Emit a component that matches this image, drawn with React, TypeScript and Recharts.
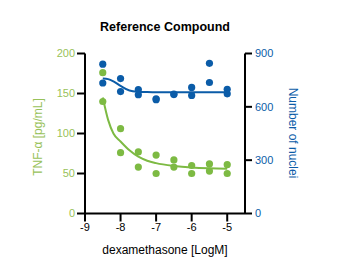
import React from 'react';
import { ComposedChart, Scatter, Line, XAxis, YAxis } from 'recharts';

// log molar concentrations of dexamethasone
const doses = [-8.5, -8, -7.5, -7, -6.5, -6, -5.5, -5];
const tnfRep1 = [176, 106, 77, 73, 67, 60, 62, 61];
const tnfRep2 = [140, 76, 58, 50, 58, 50, 53, 50];
const nucleiRep1 = [840, 759, 697, 645, 669, 709, 845, 699];
const nucleiRep2 = [734, 686, 668, 640, 672, 664, 737, 673];

// fitted curves
const fitDoses = [-8.5, -8.35, -8.2, -8, -7.75, -7.5, -7.25, -7, -6.5, -6, -5.5, -5];
const tnfFit = [145, 117, 100, 90, 79, 71, 66, 63, 59.5, 57.5, 56.5, 56];
const nucleiFit = [760, 756, 743, 718, 692, 685, 683, 682, 682, 682, 682, 682];

const xTicks = [-9, -8, -7, -6, -5];
const tnfTicks = [0, 50, 100, 150, 200];
const nucleiTicks = [0, 300, 600, 900];

const GREEN = '#7dba43';
const GREEN_TEXT = '#98c25a';
const BLUE = '#0b5ca8';
const FONT = '"Liberation Sans", Arial, sans-serif';

const pair = (xs: number[], ys: number[]) => xs.map((x, i) => ({ x, y: ys[i] }));

const tnfPoints = [...pair(doses, tnfRep1), ...pair(doses, tnfRep2)];
const nucleiPoints = [...pair(doses, nucleiRep1), ...pair(doses, nucleiRep2)];
const tnfCurve = pair(fitDoses, tnfFit);
const nucleiCurve = pair(fitDoses, nucleiFit);

const dot = (color: string) => (props: any) => (
  <circle cx={props.cx} cy={props.cy} r={3.6} fill={color} />
);

const axisLine = { stroke: '#000', strokeWidth: 2 };

export default function App() {
  return (
    <div style={{ position: 'absolute', left: 0, top: 0, width: 342, height: 275, fontFamily: FONT }}>
      <div
        style={{
          position: 'absolute',
          left: 0,
          width: 330,
          top: 20,
          textAlign: 'center',
          fontWeight: 'bold',
          fontSize: 12.5,
          color: '#000',
        }}
      >
        Reference Compound
      </div>
      <ComposedChart
        width={342}
        height={275}
        margin={{ top: 53.5, right: 42, bottom: 31.5, left: 0 }}
        style={{ fontFamily: FONT }}
      >
        <XAxis
          type="number"
          dataKey="x"
          domain={[-9, -4.5]}
          ticks={xTicks}
          height={30}
          axisLine={axisLine}
          tickLine={axisLine}
          tickSize={8}
          tick={{ fill: '#000', fontSize: 11 }}
          allowDataOverflow
        />
        <YAxis
          yAxisId="tnf"
          type="number"
          dataKey="y"
          domain={[0, 200]}
          ticks={tnfTicks}
          width={85}
          axisLine={axisLine}
          tickLine={axisLine}
          tickSize={8}
          tick={{ fill: GREEN_TEXT, fontSize: 11 }}
          allowDataOverflow
        />
        <YAxis
          yAxisId="nuc"
          orientation="right"
          type="number"
          dataKey="y"
          domain={[0, 900]}
          ticks={nucleiTicks}
          width={55}
          axisLine={axisLine}
          tickLine={axisLine}
          tickSize={7}
          tickMargin={3}
          tick={{ fill: BLUE, fontSize: 11 }}
          allowDataOverflow
        />
        <Line
          yAxisId="tnf"
          data={tnfCurve}
          dataKey="y"
          type="monotone"
          stroke={GREEN}
          strokeWidth={2}
          dot={false}
          isAnimationActive={false}
        />
        <Scatter yAxisId="tnf" data={tnfPoints} shape={dot(GREEN)} isAnimationActive={false} />
        <Line
          yAxisId="nuc"
          data={nucleiCurve}
          dataKey="y"
          type="monotone"
          stroke={BLUE}
          strokeWidth={2}
          dot={false}
          isAnimationActive={false}
        />
        <Scatter yAxisId="nuc" data={nucleiPoints} shape={dot(BLUE)} isAnimationActive={false} />
      </ComposedChart>
      <div
        style={{
          position: 'absolute',
          left: 38,
          top: 137,
          transform: 'translate(-50%, -50%) rotate(-90deg)',
          whiteSpace: 'nowrap',
          fontSize: 12,
          color: GREEN_TEXT,
        }}
      >
        TNF-α [pg/mL]
      </div>
      <div
        style={{
          position: 'absolute',
          left: 293,
          top: 133,
          transform: 'translate(-50%, -50%) rotate(90deg)',
          whiteSpace: 'nowrap',
          fontSize: 12,
          color: BLUE,
        }}
      >
        Number of nuclei
      </div>
      <div
        style={{
          position: 'absolute',
          left: 0,
          width: 330,
          top: 243,
          textAlign: 'center',
          fontSize: 12,
          color: '#000',
        }}
      >
        dexamethasone [LogM]
      </div>
    </div>
  );
}
